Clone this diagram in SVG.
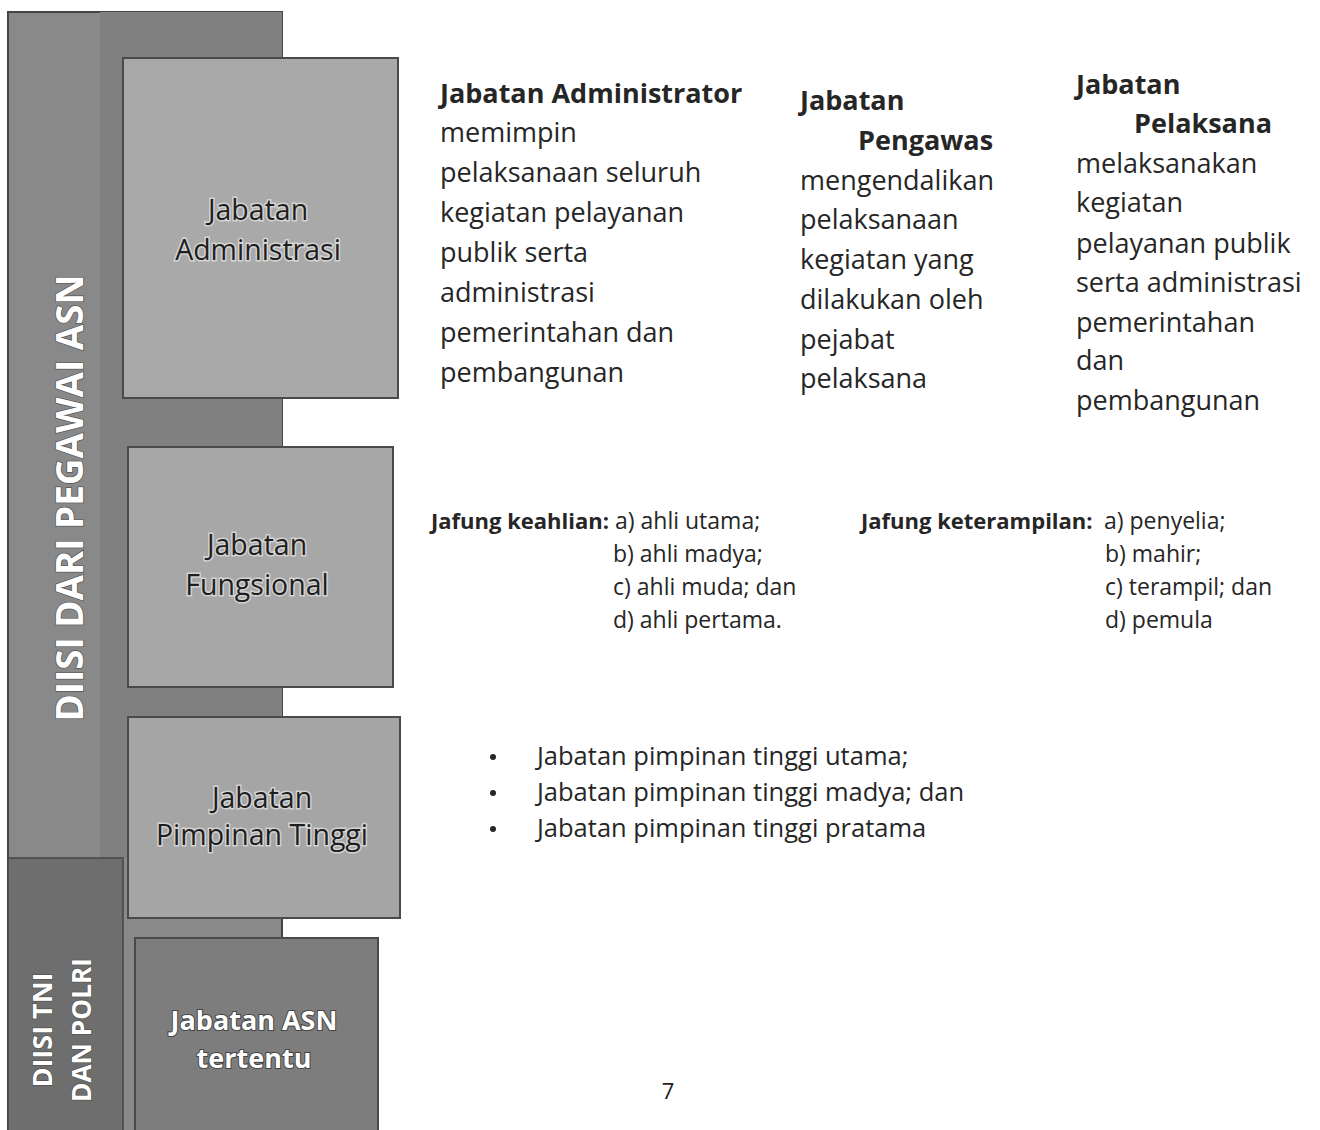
<svg xmlns="http://www.w3.org/2000/svg" width="1320" height="1130" viewBox="0 0 1320 1130">
<style>
  text { font-family: "Open Sans", Lato, "Liberation Sans", sans-serif; }
  .body { font-size: 27px; fill: #262626; }
  .bold { font-weight: bold; }
  .small { font-size: 23px; fill: #262626; }
  .smallb { font-size: 22px; font-weight: bold; fill: #262626; }
  .bul { font-size: 25.5px; fill: #262626; }
  .boxlbl { font-size: 28.5px; fill: #1e1e1e; text-anchor: middle; stroke: #ffffff; stroke-width: 3; stroke-opacity: 0.5; paint-order: stroke; }
  .boxlblw { font-size: 27px; font-weight: bold; fill: #ffffff; text-anchor: middle; stroke: #444; stroke-width: 2; paint-order: stroke; }
  .vert { font-weight: bold; fill: #ffffff; text-anchor: middle; stroke: #555; stroke-width: 1.5; paint-order: stroke; }
  .box { stroke: #4a4a4a; stroke-width: 2; }
</style>
<rect width="1320" height="1130" fill="#ffffff"/>

<g id="background-column">
  <rect x="8" y="12" width="274" height="1130" fill="#898989" stroke="#454545" stroke-width="2"/>
  <rect x="100" y="12" width="182" height="846" fill="#808080"/>
  <rect x="8" y="858" width="115" height="280" fill="#6e6e6e" stroke="#454545" stroke-width="1.5"/>
</g>

<g id="label-asn">
  <text class="vert" font-size="38" textLength="447" lengthAdjust="spacingAndGlyphs" transform="translate(83,498) rotate(-90)">DIISI DARI PEGAWAI ASN</text>
</g>

<g id="label-tni">
  <text class="vert" font-size="26" textLength="115" lengthAdjust="spacingAndGlyphs" transform="translate(52,1030) rotate(-90)">DIISI TNI</text>
  <text class="vert" font-size="26" textLength="144" lengthAdjust="spacingAndGlyphs" transform="translate(91,1030) rotate(-90)">DAN POLRI</text>
</g>

<g id="node-administrasi">
  <rect class="box" x="123" y="58" width="275" height="340" fill="#a9a9a9"/>
  <text class="boxlbl" x="258" y="220">Jabatan</text>
  <text class="boxlbl" x="258" y="260">Administrasi</text>
</g>

<g id="node-fungsional">
  <rect class="box" x="128" y="447" width="265" height="240" fill="#a7a7a7"/>
  <text class="boxlbl" x="257" y="555">Jabatan</text>
  <text class="boxlbl" x="257" y="595">Fungsional</text>
</g>

<g id="node-pimpinan">
  <rect class="box" x="128" y="717" width="272" height="201" fill="#a5a5a5"/>
  <text class="boxlbl" x="262" y="808">Jabatan</text>
  <text class="boxlbl" x="262" y="845">Pimpinan Tinggi</text>
</g>

<g id="node-asn-tertentu">
  <rect class="box" x="135" y="938" width="243" height="200" fill="#7d7d7d"/>
  <text class="boxlblw" x="254" y="1030">Jabatan ASN</text>
  <text class="boxlblw" x="254" y="1068">tertentu</text>
</g>

<g id="connectors"></g>

<g id="text-administrator">
  <text x="440" y="103" class="body bold" font-size="25.5">Jabatan Administrator</text>
  <text x="440" y="142" class="body">memimpin</text>
  <text x="440" y="182" class="body">pelaksanaan seluruh</text>
  <text x="440" y="222" class="body">kegiatan pelayanan</text>
  <text x="440" y="262" class="body">publik serta</text>
  <text x="440" y="302" class="body">administrasi</text>
  <text x="440" y="342" class="body">pemerintahan dan</text>
  <text x="440" y="382" class="body">pembangunan</text>
</g>

<g id="text-pengawas">
  <text x="800" y="110" class="body bold" font-size="26">Jabatan</text>
  <text x="858" y="150" class="body bold" font-size="26">Pengawas</text>
  <text x="800" y="190" class="body">mengendalikan</text>
  <text x="800" y="229" class="body">pelaksanaan</text>
  <text x="800" y="269" class="body">kegiatan yang</text>
  <text x="800" y="309" class="body">dilakukan oleh</text>
  <text x="800" y="349" class="body">pejabat</text>
  <text x="800" y="388" class="body">pelaksana</text>
</g>

<g id="text-pelaksana">
  <text x="1076" y="94" class="body bold" font-size="26">Jabatan</text>
  <text x="1134" y="133" class="body bold" font-size="26">Pelaksana</text>
  <text x="1076" y="173" class="body">melaksanakan</text>
  <text x="1076" y="212" class="body">kegiatan</text>
  <text x="1076" y="253" class="body">pelayanan publik</text>
  <text x="1076" y="292" class="body">serta administrasi</text>
  <text x="1076" y="332" class="body">pemerintahan</text>
  <text x="1076" y="370" class="body">dan</text>
  <text x="1076" y="410" class="body">pembangunan</text>
</g>

<g id="text-jafung-keahlian">
  <text x="431" y="529" class="smallb">Jafung keahlian:</text>
  <text x="615" y="529" class="small">a) ahli utama;</text>
  <text x="613" y="562" class="small">b) ahli madya;</text>
  <text x="613" y="595" class="small">c) ahli muda; dan</text>
  <text x="613" y="628" class="small">d) ahli pertama.</text>
</g>

<g id="text-jafung-keterampilan">
  <text x="861" y="529" class="smallb">Jafung keterampilan:</text>
  <text x="1104" y="529" class="small">a) penyelia;</text>
  <text x="1105" y="562" class="small">b) mahir;</text>
  <text x="1105" y="595" class="small">c) terampil; dan</text>
  <text x="1105" y="628" class="small">d) pemula</text>
</g>

<g id="text-pimpinan-tinggi">
  <circle cx="493" cy="757" r="3" fill="#262626"/>
  <circle cx="493" cy="793" r="3" fill="#262626"/>
  <circle cx="493" cy="829" r="3" fill="#262626"/>
  <text x="537" y="765" class="bul">Jabatan pimpinan tinggi utama;</text>
  <text x="537" y="801" class="bul">Jabatan pimpinan tinggi madya; dan</text>
  <text x="537" y="837" class="bul">Jabatan pimpinan tinggi pratama</text>
</g>

<g id="page-number">
  <text x="668" y="1099" font-size="22" fill="#222" text-anchor="middle">7</text>
</g>
</svg>
